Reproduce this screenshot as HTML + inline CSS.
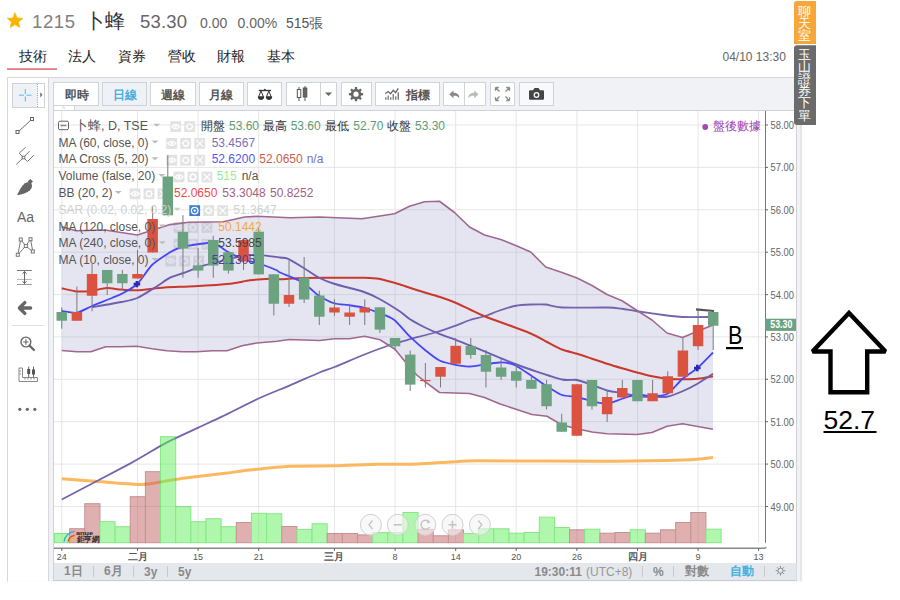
<!DOCTYPE html>
<html><head><meta charset="utf-8">
<style>
html,body{margin:0;padding:0;background:#fff;width:900px;height:600px;overflow:hidden;font-family:"Liberation Sans",sans-serif;}
.a{position:absolute;white-space:nowrap;}
svg text{font-family:"Liberation Sans",sans-serif;}
</style></head><body>
<svg class="a" style="left:0;top:0" width="900" height="600" viewBox="0 0 900 600">
<!-- header -->
<polygon points="15.00,12.60 17.17,17.91 22.89,18.34 18.52,22.04 19.88,27.61 15.00,24.60 10.12,27.61 11.48,22.04 7.11,18.34 12.83,17.91" fill="#f6b500" stroke="#f6b500" stroke-width="0.6" stroke-linejoin="round"/>
<text x="32" y="27.8" font-size="18.5" fill="#808080" letter-spacing="0.6">1215</text>
<text x="84.5" y="27.8" font-size="19.5" fill="#333">卜蜂</text>
<text x="140" y="27.8" font-size="18.5" fill="#666" letter-spacing="0.2">53.30</text>
<text x="200" y="27.8" font-size="14" fill="#666">0.00</text>
<text x="237.5" y="27.8" font-size="14" fill="#666">0.00%</text>
<text x="286" y="27.8" font-size="14" fill="#555">515張</text>
<!-- tabs -->
<text x="18.5" y="60.7" font-size="13.5" fill="#222">技術</text>
<text x="67.5" y="60.7" font-size="13.5" fill="#222">法人</text>
<text x="117.5" y="60.7" font-size="13.5" fill="#222">資券</text>
<text x="167.5" y="60.7" font-size="13.5" fill="#222">營收</text>
<text x="217" y="60.7" font-size="13.5" fill="#222">財報</text>
<text x="266.5" y="60.7" font-size="13.5" fill="#222">基本</text>
<rect x="7" y="68.3" width="50" height="1.6" fill="#e36a7a"/>
<text x="722.5" y="61" font-size="12" fill="#666">04/10 13:30</text>
<!-- container -->
<rect x="7" y="77" width="794.5" height="504.5" fill="#f0f2f6"/>
<path d="M7.5,581.5 V77.5 H801 V581.5" fill="none" stroke="#d6d8dc" stroke-width="1"/>
<rect x="8" y="78" width="40" height="503.5" fill="#fff"/>
<line x1="48.5" y1="78" x2="48.5" y2="581" stroke="#d6d8dc"/>
<rect x="53" y="110" width="744" height="453" fill="#fff"/>
<line x1="53.5" y1="110" x2="53.5" y2="581" stroke="#cfd2d7"/>
<line x1="796.5" y1="110" x2="796.5" y2="581" stroke="#cfd2d7"/>
<line x1="53" y1="110.5" x2="797" y2="110.5" stroke="#cfd2d7"/>
<rect x="54" y="563" width="742.5" height="17" fill="#e4e7ec"/>
<line x1="53" y1="580.5" x2="797" y2="580.5" stroke="#c9ccd2"/>
<!-- collapse handle -->
<rect x="53.5" y="105.5" width="21" height="5" fill="#fff" stroke="#cfd2d7"/><path d="M61.8,108.6 L63.5,107 L65.2,108.6" fill="none" stroke="#bbb" stroke-width="0.8"/>
<!-- top toolbar buttons -->
<g stroke="#cfd2d7" stroke-width="1">
<rect x="53.5" y="82.5" width="45" height="23" fill="#fff"/>
<rect x="102.5" y="82.5" width="44" height="23" fill="#eef1f5"/>
<rect x="150.5" y="82.5" width="45" height="23" fill="#fff"/>
<rect x="199.5" y="82.5" width="44" height="23" fill="#fff"/>
<rect x="247.5" y="82.5" width="34" height="23" fill="#fff"/>
<rect x="286.5" y="82.5" width="50" height="23" fill="#fff"/>
<line x1="320.5" y1="83" x2="320.5" y2="105"/>
<rect x="341.5" y="82.5" width="30" height="23" fill="#fff"/>
<rect x="375.5" y="82.5" width="64" height="23" fill="#fff"/>
<rect x="443.5" y="82.5" width="42" height="23" fill="#fff"/>
<line x1="464.5" y1="83" x2="464.5" y2="105"/>
<rect x="490.5" y="82.5" width="24" height="23" fill="#fff"/>
<rect x="519.5" y="82.5" width="34" height="23" fill="#f8f9fb"/>
</g>
<g font-size="12.4" font-weight="bold">
<text x="64.5" y="98.8" fill="#555">即時</text>
<text x="112.5" y="98.8" fill="#45b0e0">日線</text>
<text x="160.5" y="98.8" fill="#555">週線</text>
<text x="209" y="98.8" fill="#555">月線</text>
<text x="405.5" y="98.8" fill="#555">指標</text>
</g>
<!-- balance icon -->
<g stroke="#333" fill="none" stroke-width="1">
<path d="M258.8,90.5 H271" stroke-width="1.3"/><circle cx="264.9" cy="89.6" r="0.9" fill="#333" stroke="none"/>
<path d="M261,91 L258.6,96.8 M261,91 L263.4,96.8 M268.8,91 L266.4,96.8 M268.8,91 L271.2,96.8"/>
<path d="M258.2,96.8 A2.8,2.7 0 0 0 263.8,96.8 Z M266.2,96.8 A2.8,2.7 0 0 0 271.8,96.8 Z" fill="#333"/>
</g>
<!-- candle icon -->
<g stroke="#555" stroke-width="1">
<line x1="299" y1="87" x2="299" y2="101"/><rect x="297.3" y="89.5" width="3.5" height="8" fill="#fff"/>
<line x1="305" y1="86" x2="305" y2="101"/><rect x="303.3" y="88" width="3.5" height="9" fill="#666"/>
</g>
<path d="M325,92.5 H332 L328.5,96 Z" fill="#666"/>
<!-- gear -->
<path d="M354.76,89.05 L354.87,87.09 L357.13,87.09 L357.24,89.05 L358.77,89.68 L360.23,88.38 L361.82,89.97 L360.52,91.43 L361.15,92.96 L363.11,93.07 L363.11,95.33 L361.15,95.44 L360.52,96.97 L361.82,98.43 L360.23,100.02 L358.77,98.72 L357.24,99.35 L357.13,101.31 L354.87,101.31 L354.76,99.35 L353.23,98.72 L351.77,100.02 L350.18,98.43 L351.48,96.97 L350.85,95.44 L348.89,95.33 L348.89,93.07 L350.85,92.96 L351.48,91.43 L350.18,89.97 L351.77,88.38 L353.23,89.68 Z M356,91.6 A2.6,2.6 0 1 0 356,96.8 A2.6,2.6 0 1 0 356,91.6 Z" fill="#666" fill-rule="evenodd"/>
<!-- indicator icon -->
<path d="M385.3,93.5 L388.2,91.5 L390.5,93.7 L393.3,90.3 L395.5,92.7 L398.3,88.3" fill="none" stroke="#666" stroke-width="1.3"/>
<g fill="#777"><rect x="385.2" y="97.2" width="1.3" height="2.6"/><rect x="387.6" y="95.5" width="1.3" height="4.3"/><rect x="390.1" y="97.3" width="1.3" height="2.5"/><rect x="392.6" y="94" width="1.3" height="5.8"/><rect x="395.1" y="96.3" width="1.3" height="3.5"/><rect x="397.6" y="92.2" width="1.4" height="7.6"/></g>
<!-- undo redo -->
<g transform="translate(-1.8,0)"><path d="M451,94.3 L455.3,90.5 V92.8 C459.5,92.8 461.3,95 461,98.5 C459.8,96.3 458.3,95.8 455.3,95.8 V98.2 Z" fill="#888"/></g>
<path d="M478.5,94.3 L474.2,90.5 V92.8 C470,92.8 468.2,95 468.5,98.5 C469.7,96.3 471.2,95.8 474.2,95.8 V98.2 Z" fill="#bbb"/>
<!-- fullscreen -->
<g stroke="#888" stroke-width="1.3" fill="none">
<path d="M495.5,87.5 L499.5,91.5 M495.5,87.5 H498.8 M495.5,87.5 V90.8"/>
<path d="M509.5,87.5 L505.5,91.5 M509.5,87.5 H506.2 M509.5,87.5 V90.8"/>
<path d="M495.5,100.5 L499.5,96.5 M495.5,100.5 H498.8 M495.5,100.5 V97.2"/>
<path d="M509.5,100.5 L505.5,96.5 M509.5,100.5 H506.2 M509.5,100.5 V97.2"/>
</g>
<!-- camera -->
<path d="M530,90.3 H533 L534.5,88 H538.5 L540,90.3 H543 A1,1 0 0 1 544,91.3 V98.8 A1,1 0 0 1 543,99.8 H530 A1,1 0 0 1 529,98.8 V91.3 A1,1 0 0 1 530,90.3 Z" fill="#444"/>
<circle cx="536.5" cy="95" r="2.9" fill="#fff"/><circle cx="536.5" cy="95" r="1.7" fill="#444"/>

<!-- left toolbar -->
<rect x="12.5" y="83.5" width="32" height="24" fill="#fff" stroke="#cfd2d7"/>
<rect x="13" y="84" width="24" height="23" fill="#eef1f5"/>
<line x1="37.5" y1="84" x2="37.5" y2="107" stroke="#999" stroke-dasharray="1 1.2"/>
<path d="M40.2,92.2 L42.6,94.8 L40.2,97.4 Z" fill="#777"/>
<path d="M25.3,89 V94 M25.3,96.5 V101.5 M19,95.2 H24 M26.5,95.2 H31.5" stroke="#55bde6" stroke-width="1"/>
<g stroke="#666" stroke-width="1" fill="#fff">
<line x1="18" y1="132" x2="31.5" y2="119.5"/>
<rect x="16" y="130.5" width="3" height="3"/><rect x="30.5" y="117.5" width="3" height="3"/>
</g>
<g stroke="#777" stroke-width="1" fill="none">
<path d="M16.2,164.5 L23.5,157.5 L29.5,151.2 M23.5,157.5 L19.2,153.2 L25.7,147.2 M23.5,157.5 L27.5,161.5 L33.8,155.2"/>
<rect x="22.2" y="156.2" width="2.6" height="2.6" fill="#fff"/>
</g>
<path d="M17,195.2 C19.5,190 22,185.5 25,183.3 C27.2,181.8 29.8,182 31.3,183.6 C32.6,185.4 32.2,188 30,190.2 C27,192.8 22,194.3 17,195.2 Z" fill="#666"/><path d="M27.6,181.6 L30.3,178.9 L33,181.6 L30.3,184.3 Z" fill="#666"/>
<text x="17" y="222" font-size="14" fill="#666">Aa</text>
<g stroke="#777" stroke-width="1" fill="#fff">
<path d="M17.8,254.8 L20.8,239.5 L25.8,246 L30.5,239.2 L32.8,251.5 L25.8,246 L17.8,254.8" fill="none"/>
<rect x="19.3" y="238" width="3" height="3"/><rect x="29" y="237.7" width="3" height="3"/><rect x="24.3" y="244.5" width="3" height="3"/><rect x="31.3" y="250" width="3" height="3"/><rect x="16.3" y="253.3" width="3" height="3"/>
</g>
<g stroke-width="1" fill="none"><path d="M17,270.5 H31.8" stroke="#777"/><path d="M17,279.5 H31.8" stroke="#bbb"/><path d="M17,284.5 H31.8" stroke="#999"/><path d="M24.5,271.5 V283.5" stroke="#666"/><path d="M22.5,273.8 L24.5,271.5 L26.5,273.8 M22.5,281.2 L24.5,283.5 L26.5,281.2" stroke="#666"/></g>
<path d="M24.8,302.6 L19.4,308 L24.8,313.4 M19.6,308 H30.6" fill="none" stroke="#666" stroke-width="3.4" stroke-linecap="round" stroke-linejoin="round"/>
<line x1="12" y1="325.5" x2="44.5" y2="325.5" stroke="#e0e0e0"/>
<g stroke="#666" fill="none"><circle cx="25.9" cy="342" r="4.9" stroke-width="1.4"/><path d="M29.5,345.6 L34,350" stroke-width="2.2" stroke-linecap="round"/><path d="M23.2,342 H28.6 M25.9,339.3 V344.7" stroke-width="1.1"/></g>
<g stroke="#888" stroke-width="1" fill="none">
<path d="M19,368 H22.5 V377.5 H37.5 V381.5 H19 Z"/>
<path d="M19.5,371 H21 M19.5,374 H21 M25,378 V379.5 M28,378 V379.5 M31,378 V379.5 M34,378 V379.5"/>
</g>
<g stroke="#666" stroke-width="1"><path d="M28.7,366.5 V377 M33.5,366.5 V377"/></g>
<rect x="27.2" y="369" width="3" height="5" fill="#555"/><rect x="32" y="369.5" width="3" height="5" fill="#555"/>
<g fill="#666"><circle cx="19.8" cy="409.3" r="1.6"/><circle cx="27.3" cy="409.3" r="1.6"/><circle cx="34.8" cy="409.3" r="1.6"/></g>

<!-- right vertical tabs -->
<path d="M797,1 H816 V44 H794 V4 A3,3 0 0 1 797,1 Z" fill="#f7a73a"/>
<path d="M797,45.3 H816 V125 H797 A3,3 0 0 1 794,122 V48.3 A3,3 0 0 1 797,45.3 Z" fill="#6b6b6b"/>
<g font-size="12.8" font-weight="500" fill="#fff" text-anchor="middle">
<text x="804.5" y="15.5">聊</text><text x="804.5" y="27.7">天</text><text x="804.5" y="39.9">室</text>
<text x="804.5" y="58.5">玉</text><text x="804.5" y="70.7">山</text><text x="804.5" y="82.9">證</text><text x="804.5" y="95.1">券</text><text x="804.5" y="107.3">下</text><text x="804.5" y="119.5">單</text>
</g>
<!-- chart -->
<line x1="61.8" y1="111" x2="61.8" y2="542.8" stroke="#e6e6e6" stroke-width="1"/>
<line x1="137.5" y1="111" x2="137.5" y2="542.8" stroke="#e6e6e6" stroke-width="1"/>
<line x1="198.1" y1="111" x2="198.1" y2="542.8" stroke="#e6e6e6" stroke-width="1"/>
<line x1="258.7" y1="111" x2="258.7" y2="542.8" stroke="#e6e6e6" stroke-width="1"/>
<line x1="334.4" y1="111" x2="334.4" y2="542.8" stroke="#e6e6e6" stroke-width="1"/>
<line x1="395.1" y1="111" x2="395.1" y2="542.8" stroke="#e6e6e6" stroke-width="1"/>
<line x1="455.7" y1="111" x2="455.7" y2="542.8" stroke="#e6e6e6" stroke-width="1"/>
<line x1="516.2" y1="111" x2="516.2" y2="542.8" stroke="#e6e6e6" stroke-width="1"/>
<line x1="576.9" y1="111" x2="576.9" y2="542.8" stroke="#e6e6e6" stroke-width="1"/>
<line x1="637.5" y1="111" x2="637.5" y2="542.8" stroke="#e6e6e6" stroke-width="1"/>
<line x1="698.1" y1="111" x2="698.1" y2="542.8" stroke="#e6e6e6" stroke-width="1"/>
<line x1="758.6" y1="111" x2="758.6" y2="542.8" stroke="#e6e6e6" stroke-width="1"/>
<line x1="54" y1="506.5" x2="765" y2="506.5" stroke="#e6e6e6" stroke-width="1"/>
<line x1="54" y1="464.1" x2="765" y2="464.1" stroke="#e6e6e6" stroke-width="1"/>
<line x1="54" y1="421.7" x2="765" y2="421.7" stroke="#e6e6e6" stroke-width="1"/>
<line x1="54" y1="379.3" x2="765" y2="379.3" stroke="#e6e6e6" stroke-width="1"/>
<line x1="54" y1="336.9" x2="765" y2="336.9" stroke="#e6e6e6" stroke-width="1"/>
<line x1="54" y1="294.6" x2="765" y2="294.6" stroke="#e6e6e6" stroke-width="1"/>
<line x1="54" y1="252.2" x2="765" y2="252.2" stroke="#e6e6e6" stroke-width="1"/>
<line x1="54" y1="209.8" x2="765" y2="209.8" stroke="#e6e6e6" stroke-width="1"/>
<line x1="54" y1="167.4" x2="765" y2="167.4" stroke="#e6e6e6" stroke-width="1"/>
<line x1="54" y1="125.0" x2="765" y2="125.0" stroke="#e6e6e6" stroke-width="1"/>
<rect x="170.3" y="121.2" width="10.8" height="10.8" fill="#e2e2e2"/>
<path d="M171.7,126.6 Q175.7,122.4 179.7,126.6 Q175.7,130.8 171.7,126.6 Z" fill="none" stroke="#fff" stroke-width="1.3"/><circle cx="175.7" cy="126.6" r="1.2" fill="#fff"/>
<rect x="184.3" y="121.2" width="10.8" height="10.8" fill="#e2e2e2"/>
<circle cx="189.7" cy="126.6" r="2.6" fill="none" stroke="#fff" stroke-width="1.2"/>
<line x1="192.30" y1="126.60" x2="193.70" y2="126.60" stroke="#fff" stroke-width="1"/>
<line x1="191.54" y1="128.44" x2="192.53" y2="129.43" stroke="#fff" stroke-width="1"/>
<line x1="189.70" y1="129.20" x2="189.70" y2="130.60" stroke="#fff" stroke-width="1"/>
<line x1="187.86" y1="128.44" x2="186.87" y2="129.43" stroke="#fff" stroke-width="1"/>
<line x1="187.10" y1="126.60" x2="185.70" y2="126.60" stroke="#fff" stroke-width="1"/>
<line x1="187.86" y1="124.76" x2="186.87" y2="123.77" stroke="#fff" stroke-width="1"/>
<line x1="189.70" y1="124.00" x2="189.70" y2="122.60" stroke="#fff" stroke-width="1"/>
<line x1="191.54" y1="124.76" x2="192.53" y2="123.77" stroke="#fff" stroke-width="1"/>
<rect x="166.3" y="138.0" width="10.8" height="10.8" fill="#e2e2e2"/>
<path d="M167.7,143.4 Q171.7,139.2 175.7,143.4 Q171.7,147.6 167.7,143.4 Z" fill="none" stroke="#fff" stroke-width="1.3"/><circle cx="171.7" cy="143.4" r="1.2" fill="#fff"/>
<rect x="180.3" y="138.0" width="10.8" height="10.8" fill="#e2e2e2"/>
<circle cx="185.7" cy="143.4" r="2.6" fill="none" stroke="#fff" stroke-width="1.2"/>
<line x1="188.30" y1="143.40" x2="189.70" y2="143.40" stroke="#fff" stroke-width="1"/>
<line x1="187.54" y1="145.24" x2="188.53" y2="146.23" stroke="#fff" stroke-width="1"/>
<line x1="185.70" y1="146.00" x2="185.70" y2="147.40" stroke="#fff" stroke-width="1"/>
<line x1="183.86" y1="145.24" x2="182.87" y2="146.23" stroke="#fff" stroke-width="1"/>
<line x1="183.10" y1="143.40" x2="181.70" y2="143.40" stroke="#fff" stroke-width="1"/>
<line x1="183.86" y1="141.56" x2="182.87" y2="140.57" stroke="#fff" stroke-width="1"/>
<line x1="185.70" y1="140.80" x2="185.70" y2="139.40" stroke="#fff" stroke-width="1"/>
<line x1="187.54" y1="141.56" x2="188.53" y2="140.57" stroke="#fff" stroke-width="1"/>
<rect x="194.3" y="138.0" width="10.8" height="10.8" fill="#e2e2e2"/>
<path d="M196.2,139.9L203.2,146.9M203.2,139.9L196.2,146.9" stroke="#fff" stroke-width="1.1"/>
<rect x="166.3" y="154.8" width="10.8" height="10.8" fill="#e2e2e2"/>
<path d="M167.7,160.2 Q171.7,156.0 175.7,160.2 Q171.7,164.4 167.7,160.2 Z" fill="none" stroke="#fff" stroke-width="1.3"/><circle cx="171.7" cy="160.2" r="1.2" fill="#fff"/>
<rect x="180.3" y="154.8" width="10.8" height="10.8" fill="#e2e2e2"/>
<circle cx="185.7" cy="160.2" r="2.6" fill="none" stroke="#fff" stroke-width="1.2"/>
<line x1="188.30" y1="160.20" x2="189.70" y2="160.20" stroke="#fff" stroke-width="1"/>
<line x1="187.54" y1="162.04" x2="188.53" y2="163.03" stroke="#fff" stroke-width="1"/>
<line x1="185.70" y1="162.80" x2="185.70" y2="164.20" stroke="#fff" stroke-width="1"/>
<line x1="183.86" y1="162.04" x2="182.87" y2="163.03" stroke="#fff" stroke-width="1"/>
<line x1="183.10" y1="160.20" x2="181.70" y2="160.20" stroke="#fff" stroke-width="1"/>
<line x1="183.86" y1="158.36" x2="182.87" y2="157.37" stroke="#fff" stroke-width="1"/>
<line x1="185.70" y1="157.60" x2="185.70" y2="156.20" stroke="#fff" stroke-width="1"/>
<line x1="187.54" y1="158.36" x2="188.53" y2="157.37" stroke="#fff" stroke-width="1"/>
<rect x="194.3" y="154.8" width="10.8" height="10.8" fill="#e2e2e2"/>
<path d="M196.2,156.7L203.2,163.7M203.2,156.7L196.2,163.7" stroke="#fff" stroke-width="1.1"/>
<rect x="173.6" y="171.6" width="10.8" height="10.8" fill="#e2e2e2"/>
<path d="M175.0,177.0 Q179.0,172.8 183.0,177.0 Q179.0,181.2 175.0,177.0 Z" fill="none" stroke="#fff" stroke-width="1.3"/><circle cx="179.0" cy="177.0" r="1.2" fill="#fff"/>
<rect x="187.6" y="171.6" width="10.8" height="10.8" fill="#e2e2e2"/>
<circle cx="193.0" cy="177.0" r="2.6" fill="none" stroke="#fff" stroke-width="1.2"/>
<line x1="195.60" y1="177.00" x2="197.00" y2="177.00" stroke="#fff" stroke-width="1"/>
<line x1="194.84" y1="178.84" x2="195.83" y2="179.83" stroke="#fff" stroke-width="1"/>
<line x1="193.00" y1="179.60" x2="193.00" y2="181.00" stroke="#fff" stroke-width="1"/>
<line x1="191.16" y1="178.84" x2="190.17" y2="179.83" stroke="#fff" stroke-width="1"/>
<line x1="190.40" y1="177.00" x2="189.00" y2="177.00" stroke="#fff" stroke-width="1"/>
<line x1="191.16" y1="175.16" x2="190.17" y2="174.17" stroke="#fff" stroke-width="1"/>
<line x1="193.00" y1="174.40" x2="193.00" y2="173.00" stroke="#fff" stroke-width="1"/>
<line x1="194.84" y1="175.16" x2="195.83" y2="174.17" stroke="#fff" stroke-width="1"/>
<rect x="201.6" y="171.6" width="10.8" height="10.8" fill="#e2e2e2"/>
<path d="M203.5,173.5L210.5,180.5M210.5,173.5L203.5,180.5" stroke="#fff" stroke-width="1.1"/>
<rect x="129.6" y="188.4" width="10.8" height="10.8" fill="#e2e2e2"/>
<path d="M131.0,193.8 Q135.0,189.6 139.0,193.8 Q135.0,198.0 131.0,193.8 Z" fill="none" stroke="#fff" stroke-width="1.3"/><circle cx="135.0" cy="193.8" r="1.2" fill="#fff"/>
<rect x="143.6" y="188.4" width="10.8" height="10.8" fill="#e2e2e2"/>
<circle cx="149.0" cy="193.8" r="2.6" fill="none" stroke="#fff" stroke-width="1.2"/>
<line x1="151.60" y1="193.80" x2="153.00" y2="193.80" stroke="#fff" stroke-width="1"/>
<line x1="150.84" y1="195.64" x2="151.83" y2="196.63" stroke="#fff" stroke-width="1"/>
<line x1="149.00" y1="196.40" x2="149.00" y2="197.80" stroke="#fff" stroke-width="1"/>
<line x1="147.16" y1="195.64" x2="146.17" y2="196.63" stroke="#fff" stroke-width="1"/>
<line x1="146.40" y1="193.80" x2="145.00" y2="193.80" stroke="#fff" stroke-width="1"/>
<line x1="147.16" y1="191.96" x2="146.17" y2="190.97" stroke="#fff" stroke-width="1"/>
<line x1="149.00" y1="191.20" x2="149.00" y2="189.80" stroke="#fff" stroke-width="1"/>
<line x1="150.84" y1="191.96" x2="151.83" y2="190.97" stroke="#fff" stroke-width="1"/>
<rect x="157.6" y="188.4" width="10.8" height="10.8" fill="#e2e2e2"/>
<path d="M159.5,190.3L166.5,197.3M166.5,190.3L159.5,197.3" stroke="#fff" stroke-width="1.1"/>
<rect x="189.3" y="205.2" width="10.8" height="10.8" fill="#3d7fd6"/>
<circle cx="194.7" cy="210.6" r="3.3" fill="none" stroke="#fff" stroke-width="1.3"/><circle cx="194.7" cy="210.6" r="1.2" fill="#fff"/>
<rect x="203.3" y="205.2" width="10.8" height="10.8" fill="#e2e2e2"/>
<circle cx="208.7" cy="210.6" r="2.6" fill="none" stroke="#fff" stroke-width="1.2"/>
<line x1="211.30" y1="210.60" x2="212.70" y2="210.60" stroke="#fff" stroke-width="1"/>
<line x1="210.54" y1="212.44" x2="211.53" y2="213.43" stroke="#fff" stroke-width="1"/>
<line x1="208.70" y1="213.20" x2="208.70" y2="214.60" stroke="#fff" stroke-width="1"/>
<line x1="206.86" y1="212.44" x2="205.87" y2="213.43" stroke="#fff" stroke-width="1"/>
<line x1="206.10" y1="210.60" x2="204.70" y2="210.60" stroke="#fff" stroke-width="1"/>
<line x1="206.86" y1="208.76" x2="205.87" y2="207.77" stroke="#fff" stroke-width="1"/>
<line x1="208.70" y1="208.00" x2="208.70" y2="206.60" stroke="#fff" stroke-width="1"/>
<line x1="210.54" y1="208.76" x2="211.53" y2="207.77" stroke="#fff" stroke-width="1"/>
<rect x="217.3" y="205.2" width="10.8" height="10.8" fill="#e2e2e2"/>
<path d="M219.2,207.1L226.2,214.1M226.2,207.1L219.2,214.1" stroke="#fff" stroke-width="1.1"/>
<rect x="173.6" y="222.0" width="10.8" height="10.8" fill="#e2e2e2"/>
<path d="M175.0,227.4 Q179.0,223.2 183.0,227.4 Q179.0,231.6 175.0,227.4 Z" fill="none" stroke="#fff" stroke-width="1.3"/><circle cx="179.0" cy="227.4" r="1.2" fill="#fff"/>
<rect x="187.6" y="222.0" width="10.8" height="10.8" fill="#e2e2e2"/>
<circle cx="193.0" cy="227.4" r="2.6" fill="none" stroke="#fff" stroke-width="1.2"/>
<line x1="195.60" y1="227.40" x2="197.00" y2="227.40" stroke="#fff" stroke-width="1"/>
<line x1="194.84" y1="229.24" x2="195.83" y2="230.23" stroke="#fff" stroke-width="1"/>
<line x1="193.00" y1="230.00" x2="193.00" y2="231.40" stroke="#fff" stroke-width="1"/>
<line x1="191.16" y1="229.24" x2="190.17" y2="230.23" stroke="#fff" stroke-width="1"/>
<line x1="190.40" y1="227.40" x2="189.00" y2="227.40" stroke="#fff" stroke-width="1"/>
<line x1="191.16" y1="225.56" x2="190.17" y2="224.57" stroke="#fff" stroke-width="1"/>
<line x1="193.00" y1="224.80" x2="193.00" y2="223.40" stroke="#fff" stroke-width="1"/>
<line x1="194.84" y1="225.56" x2="195.83" y2="224.57" stroke="#fff" stroke-width="1"/>
<rect x="201.6" y="222.0" width="10.8" height="10.8" fill="#e2e2e2"/>
<path d="M203.5,223.9L210.5,230.9M210.5,223.9L203.5,230.9" stroke="#fff" stroke-width="1.1"/>
<rect x="173.6" y="238.8" width="10.8" height="10.8" fill="#e2e2e2"/>
<path d="M175.0,244.2 Q179.0,240.0 183.0,244.2 Q179.0,248.4 175.0,244.2 Z" fill="none" stroke="#fff" stroke-width="1.3"/><circle cx="179.0" cy="244.2" r="1.2" fill="#fff"/>
<rect x="187.6" y="238.8" width="10.8" height="10.8" fill="#e2e2e2"/>
<circle cx="193.0" cy="244.2" r="2.6" fill="none" stroke="#fff" stroke-width="1.2"/>
<line x1="195.60" y1="244.20" x2="197.00" y2="244.20" stroke="#fff" stroke-width="1"/>
<line x1="194.84" y1="246.04" x2="195.83" y2="247.03" stroke="#fff" stroke-width="1"/>
<line x1="193.00" y1="246.80" x2="193.00" y2="248.20" stroke="#fff" stroke-width="1"/>
<line x1="191.16" y1="246.04" x2="190.17" y2="247.03" stroke="#fff" stroke-width="1"/>
<line x1="190.40" y1="244.20" x2="189.00" y2="244.20" stroke="#fff" stroke-width="1"/>
<line x1="191.16" y1="242.36" x2="190.17" y2="241.37" stroke="#fff" stroke-width="1"/>
<line x1="193.00" y1="241.60" x2="193.00" y2="240.20" stroke="#fff" stroke-width="1"/>
<line x1="194.84" y1="242.36" x2="195.83" y2="241.37" stroke="#fff" stroke-width="1"/>
<rect x="201.6" y="238.8" width="10.8" height="10.8" fill="#e2e2e2"/>
<path d="M203.5,240.7L210.5,247.7M210.5,240.7L203.5,247.7" stroke="#fff" stroke-width="1.1"/>
<rect x="165.3" y="255.6" width="10.8" height="10.8" fill="#e2e2e2"/>
<path d="M166.7,261.0 Q170.7,256.8 174.7,261.0 Q170.7,265.2 166.7,261.0 Z" fill="none" stroke="#fff" stroke-width="1.3"/><circle cx="170.7" cy="261.0" r="1.2" fill="#fff"/>
<rect x="179.3" y="255.6" width="10.8" height="10.8" fill="#e2e2e2"/>
<circle cx="184.7" cy="261.0" r="2.6" fill="none" stroke="#fff" stroke-width="1.2"/>
<line x1="187.30" y1="261.00" x2="188.70" y2="261.00" stroke="#fff" stroke-width="1"/>
<line x1="186.54" y1="262.84" x2="187.53" y2="263.83" stroke="#fff" stroke-width="1"/>
<line x1="184.70" y1="263.60" x2="184.70" y2="265.00" stroke="#fff" stroke-width="1"/>
<line x1="182.86" y1="262.84" x2="181.87" y2="263.83" stroke="#fff" stroke-width="1"/>
<line x1="182.10" y1="261.00" x2="180.70" y2="261.00" stroke="#fff" stroke-width="1"/>
<line x1="182.86" y1="259.16" x2="181.87" y2="258.17" stroke="#fff" stroke-width="1"/>
<line x1="184.70" y1="258.40" x2="184.70" y2="257.00" stroke="#fff" stroke-width="1"/>
<line x1="186.54" y1="259.16" x2="187.53" y2="258.17" stroke="#fff" stroke-width="1"/>
<rect x="193.3" y="255.6" width="10.8" height="10.8" fill="#e2e2e2"/>
<path d="M195.2,257.5L202.2,264.5M202.2,257.5L195.2,264.5" stroke="#fff" stroke-width="1.1"/>
<polygon points="61.75,226.80 76.00,230.80 105.00,230.00 137.30,235.00 170.00,224.60 188.70,222.30 223.30,221.70 244.70,217.00 256.70,216.30 290.00,217.70 319.50,217.00 362.00,218.75 394.50,213.75 409.50,206.25 424.50,201.75 439.50,201.25 454.50,212.50 469.50,227.00 484.50,235.00 500.75,239.50 515.75,245.50 530.75,252.00 545.75,267.00 562.00,272.50 577.00,278.00 592.00,285.50 607.00,294.50 622.00,300.75 637.00,310.50 652.00,320.00 667.00,333.00 682.50,337.50 697.50,331.25 713.00,325.00 713.00,429.25 682.50,423.75 667.00,426.25 652.00,432.50 637.00,434.50 607.00,433.75 592.00,432.00 577.00,428.75 562.00,425.00 547.00,416.25 532.00,414.50 514.50,408.75 499.50,403.75 484.50,397.50 469.50,393.50 454.50,393.00 439.50,392.50 425.00,381.70 416.70,375.00 405.80,362.50 395.00,349.20 380.00,339.70 364.50,336.25 349.50,338.75 334.50,338.75 319.50,340.50 289.50,339.50 277.00,341.25 257.00,343.00 242.00,345.75 227.00,350.75 212.00,350.75 197.00,351.75 182.00,351.75 167.00,350.75 152.00,348.75 137.00,346.25 120.75,346.75 105.75,346.75 90.75,351.75 77.00,351.75 61.75,350.50" fill="#9a9ac8" fill-opacity="0.26" stroke="none"/>
<path d="M61.75,478.75 C65.96,479.07 85.41,480.52 95.00,481.25 C104.59,481.98 130.53,484.18 137.50,484.50 C144.47,484.82 145.25,484.38 150.00,483.75 C154.75,483.12 168.67,480.45 175.00,479.50 C181.33,478.55 193.67,477.04 200.00,476.25 C206.33,475.46 218.67,474.04 225.00,473.25 C231.33,472.46 241.83,470.89 250.00,470.00 C258.17,469.11 278.80,466.79 289.50,466.25 C300.20,465.71 323.42,466.00 334.50,465.75 C345.58,465.50 367.50,464.44 377.00,464.25 C386.50,464.06 399.52,464.57 409.50,464.25 C419.48,463.93 447.20,462.19 455.75,461.75 C464.30,461.31 458.73,460.86 477.00,460.80 C495.27,460.74 575.93,461.34 600.00,461.30 C624.07,461.26 654.71,460.75 667.00,460.50 C679.29,460.25 691.17,459.68 697.00,459.30 C702.83,458.92 710.97,457.73 713.00,457.50" fill="none" stroke="#fbb04e" stroke-width="3" stroke-opacity="0.9"/>
<path d="M61.75,499.50 C70.39,494.95 116.85,470.74 130.00,463.60 C143.15,456.46 156.94,447.66 165.60,443.10 C174.26,438.54 191.21,430.98 198.40,427.60 C205.59,424.22 214.85,420.06 222.40,416.40 C229.95,412.74 249.44,402.64 258.00,398.70 C266.56,394.76 282.21,388.62 290.00,385.30 C297.79,381.98 313.86,374.82 319.50,372.50 C325.14,370.18 328.80,369.28 334.50,367.00 C340.20,364.72 357.47,357.29 364.50,354.50 C371.53,351.71 384.24,346.94 390.00,345.00 C395.76,343.06 404.30,340.78 410.00,339.20 C415.70,337.62 429.30,334.20 435.00,332.50 C440.70,330.80 450.57,327.38 455.00,325.80 C459.43,324.22 466.26,321.21 470.00,320.00 C473.74,318.79 480.76,317.45 484.50,316.25 C488.24,315.05 495.54,311.83 499.50,310.50 C503.46,309.17 511.79,306.51 515.75,305.75 C519.71,304.99 526.95,304.66 530.75,304.50 C534.55,304.34 541.79,304.12 545.75,304.50 C549.71,304.88 554.24,307.12 562.00,307.50 C569.76,307.88 599.40,307.34 607.00,307.50 C614.60,307.66 618.20,308.27 622.00,308.75 C625.80,309.23 631.30,310.39 637.00,311.25 C642.70,312.11 661.24,314.77 667.00,315.50 C672.76,316.23 676.67,316.81 682.50,317.00 C688.33,317.19 709.14,317.00 713.00,317.00" fill="none" stroke="#7663ad" stroke-width="1.8"/>
<g opacity="0.5">
<rect x="54.50" y="533.50" width="15.15" height="9.20" fill="#62f05c" stroke="#10d010" stroke-width="1"/>
<rect x="69.65" y="528.70" width="15.15" height="14.00" fill="#c26262" stroke="#8c2a2a" stroke-width="1"/>
<rect x="84.80" y="503.70" width="15.15" height="39.00" fill="#c26262" stroke="#8c2a2a" stroke-width="1"/>
<rect x="99.95" y="521.70" width="15.15" height="21.00" fill="#62f05c" stroke="#10d010" stroke-width="1"/>
<rect x="115.10" y="526.70" width="15.15" height="16.00" fill="#62f05c" stroke="#10d010" stroke-width="1"/>
<rect x="130.25" y="496.70" width="15.15" height="46.00" fill="#c26262" stroke="#8c2a2a" stroke-width="1"/>
<rect x="145.40" y="471.70" width="15.15" height="71.00" fill="#c26262" stroke="#8c2a2a" stroke-width="1"/>
<rect x="160.55" y="436.70" width="15.15" height="106.00" fill="#62f05c" stroke="#10d010" stroke-width="1"/>
<rect x="175.70" y="506.70" width="15.15" height="36.00" fill="#62f05c" stroke="#10d010" stroke-width="1"/>
<rect x="190.85" y="521.70" width="15.15" height="21.00" fill="#62f05c" stroke="#10d010" stroke-width="1"/>
<rect x="206.00" y="518.70" width="15.15" height="24.00" fill="#62f05c" stroke="#10d010" stroke-width="1"/>
<rect x="221.15" y="526.70" width="15.15" height="16.00" fill="#62f05c" stroke="#10d010" stroke-width="1"/>
<rect x="236.30" y="522.50" width="15.15" height="20.20" fill="#c26262" stroke="#8c2a2a" stroke-width="1"/>
<rect x="251.45" y="513.30" width="15.15" height="29.40" fill="#62f05c" stroke="#10d010" stroke-width="1"/>
<rect x="266.60" y="513.80" width="15.15" height="28.90" fill="#62f05c" stroke="#10d010" stroke-width="1"/>
<rect x="281.75" y="526.50" width="15.15" height="16.20" fill="#c26262" stroke="#8c2a2a" stroke-width="1"/>
<rect x="296.90" y="529.40" width="15.15" height="13.30" fill="#62f05c" stroke="#10d010" stroke-width="1"/>
<rect x="312.05" y="523.80" width="15.15" height="18.90" fill="#62f05c" stroke="#10d010" stroke-width="1"/>
<rect x="327.20" y="533.50" width="15.15" height="9.20" fill="#c26262" stroke="#8c2a2a" stroke-width="1"/>
<rect x="342.35" y="533.50" width="15.15" height="9.20" fill="#c26262" stroke="#8c2a2a" stroke-width="1"/>
<rect x="357.50" y="534.90" width="15.15" height="7.80" fill="#c26262" stroke="#8c2a2a" stroke-width="1"/>
<rect x="372.65" y="532.70" width="15.15" height="10.00" fill="#62f05c" stroke="#10d010" stroke-width="1"/>
<rect x="387.80" y="532.70" width="15.15" height="10.00" fill="#62f05c" stroke="#10d010" stroke-width="1"/>
<rect x="402.95" y="512.50" width="15.15" height="30.20" fill="#62f05c" stroke="#10d010" stroke-width="1"/>
<rect x="418.10" y="529.40" width="15.15" height="13.30" fill="#c26262" stroke="#8c2a2a" stroke-width="1"/>
<rect x="433.25" y="535.80" width="15.15" height="6.90" fill="#c26262" stroke="#8c2a2a" stroke-width="1"/>
<rect x="448.40" y="529.90" width="15.15" height="12.80" fill="#c26262" stroke="#8c2a2a" stroke-width="1"/>
<rect x="463.55" y="533.50" width="15.15" height="9.20" fill="#62f05c" stroke="#10d010" stroke-width="1"/>
<rect x="478.70" y="528.80" width="15.15" height="13.90" fill="#62f05c" stroke="#10d010" stroke-width="1"/>
<rect x="493.85" y="528.80" width="15.15" height="13.90" fill="#62f05c" stroke="#10d010" stroke-width="1"/>
<rect x="509.00" y="533.20" width="15.15" height="9.50" fill="#62f05c" stroke="#10d010" stroke-width="1"/>
<rect x="524.15" y="532.50" width="15.15" height="10.20" fill="#62f05c" stroke="#10d010" stroke-width="1"/>
<rect x="539.30" y="517.20" width="15.15" height="25.50" fill="#62f05c" stroke="#10d010" stroke-width="1"/>
<rect x="554.45" y="527.50" width="15.15" height="15.20" fill="#62f05c" stroke="#10d010" stroke-width="1"/>
<rect x="569.60" y="529.80" width="15.15" height="12.90" fill="#c26262" stroke="#8c2a2a" stroke-width="1"/>
<rect x="584.75" y="529.20" width="15.15" height="13.50" fill="#62f05c" stroke="#10d010" stroke-width="1"/>
<rect x="599.90" y="533.20" width="15.15" height="9.50" fill="#c26262" stroke="#8c2a2a" stroke-width="1"/>
<rect x="615.05" y="532.50" width="15.15" height="10.20" fill="#c26262" stroke="#8c2a2a" stroke-width="1"/>
<rect x="630.20" y="529.80" width="15.15" height="12.90" fill="#62f05c" stroke="#10d010" stroke-width="1"/>
<rect x="645.35" y="533.20" width="15.15" height="9.50" fill="#c26262" stroke="#8c2a2a" stroke-width="1"/>
<rect x="660.50" y="529.80" width="15.15" height="12.90" fill="#c26262" stroke="#8c2a2a" stroke-width="1"/>
<rect x="675.65" y="522.50" width="15.15" height="20.20" fill="#c26262" stroke="#8c2a2a" stroke-width="1"/>
<rect x="690.80" y="512.50" width="15.15" height="30.20" fill="#c26262" stroke="#8c2a2a" stroke-width="1"/>
<rect x="705.95" y="529.20" width="15.15" height="13.50" fill="#62f05c" stroke="#10d010" stroke-width="1"/>
</g>
<polyline points="61.75,226.80 76.00,230.80 105.00,230.00 137.30,235.00 170.00,224.60 188.70,222.30 223.30,221.70 244.70,217.00 256.70,216.30 290.00,217.70 319.50,217.00 362.00,218.75 394.50,213.75 409.50,206.25 424.50,201.75 439.50,201.25 454.50,212.50 469.50,227.00 484.50,235.00 500.75,239.50 515.75,245.50 530.75,252.00 545.75,267.00 562.00,272.50 577.00,278.00 592.00,285.50 607.00,294.50 622.00,300.75 637.00,310.50 652.00,320.00 667.00,333.00 682.50,337.50 697.50,331.25 713.00,325.00" fill="none" stroke="#a0688f" stroke-width="1.6" stroke-linejoin="round"/>
<polyline points="61.75,350.50 77.00,351.75 90.75,351.75 105.75,346.75 120.75,346.75 137.00,346.25 152.00,348.75 167.00,350.75 182.00,351.75 197.00,351.75 212.00,350.75 227.00,350.75 242.00,345.75 257.00,343.00 277.00,341.25 289.50,339.50 319.50,340.50 334.50,338.75 349.50,338.75 364.50,336.25 380.00,339.70 395.00,349.20 405.80,362.50 416.70,375.00 425.00,381.70 439.50,392.50 454.50,393.00 469.50,393.50 484.50,397.50 499.50,403.75 514.50,408.75 532.00,414.50 547.00,416.25 562.00,425.00 577.00,428.75 592.00,432.00 607.00,433.75 637.00,434.50 652.00,432.50 667.00,426.25 682.50,423.75 713.00,429.25" fill="none" stroke="#a0688f" stroke-width="1.6" stroke-linejoin="round"/>
<path d="M61.75,288.30 C63.68,288.71 73.17,291.20 77.00,291.50 C80.83,291.80 88.24,291.14 92.00,290.70 C95.76,290.26 102.99,288.14 106.70,288.00 C110.41,287.86 117.42,289.32 121.30,289.60 C125.18,289.88 131.83,290.47 137.30,290.20 C142.77,289.93 157.25,288.00 164.50,287.50 C171.75,287.00 186.20,286.73 194.50,286.25 C202.80,285.77 222.97,284.45 230.00,283.70 C237.03,282.95 244.93,280.93 250.00,280.30 C255.07,279.67 266.20,278.83 270.00,278.70 C273.80,278.57 275.88,279.35 280.00,279.25 C284.12,279.15 295.66,278.09 302.50,277.90 C309.34,277.71 326.21,277.77 334.00,277.75 C341.79,277.73 358.30,277.62 364.00,277.75 C369.70,277.88 374.44,277.94 379.00,278.80 C383.56,279.66 395.22,283.08 400.00,284.50 C404.78,285.92 411.63,288.42 416.70,290.00 C421.77,291.58 435.15,295.42 440.00,297.00 C444.85,298.58 451.20,300.92 455.00,302.50 C458.80,304.08 466.26,307.76 470.00,309.50 C473.74,311.24 476.96,313.27 484.50,316.25 C492.04,319.23 521.58,329.74 529.50,333.00 C537.42,336.26 542.88,339.91 547.00,342.00 C551.12,344.09 558.20,348.01 562.00,349.50 C565.80,350.99 573.20,352.58 577.00,353.75 C580.80,354.92 588.20,357.48 592.00,358.75 C595.80,360.02 603.20,362.55 607.00,363.75 C610.80,364.95 618.20,367.14 622.00,368.25 C625.80,369.36 633.20,371.49 637.00,372.50 C640.80,373.51 648.14,375.46 652.00,376.25 C655.86,377.04 663.64,378.37 667.50,378.75 C671.36,379.13 678.70,379.25 682.50,379.25 C686.30,379.25 693.64,379.13 697.50,378.75 C701.36,378.37 711.04,376.57 713.00,376.25" fill="none" stroke="#c9382a" stroke-width="2"/>
<path d="M92.00,307.30 C95.71,306.63 115.56,303.18 121.30,302.00 C127.04,300.82 132.78,300.00 137.30,298.00 C141.82,296.00 152.86,288.82 157.00,286.25 C161.14,283.68 166.67,279.38 170.00,277.70 C173.33,276.02 179.08,274.52 183.30,273.00 C187.52,271.48 198.74,267.13 203.30,265.70 C207.86,264.27 215.41,262.71 219.30,261.70 C223.19,260.69 230.11,258.55 234.00,257.70 C237.89,256.85 246.29,255.29 250.00,255.00 C253.71,254.71 259.50,255.08 263.30,255.40 C267.10,255.72 276.93,257.08 280.00,257.50 C283.07,257.92 284.65,257.46 287.50,258.70 C290.35,259.94 298.51,264.84 302.50,267.25 C306.49,269.66 315.01,275.66 319.00,277.75 C322.99,279.84 328.30,281.94 334.00,283.75 C339.70,285.56 358.30,290.10 364.00,292.00 C369.70,293.90 374.44,296.28 379.00,298.75 C383.56,301.22 396.07,308.91 400.00,311.50 C403.93,314.09 406.83,317.17 410.00,319.20 C413.17,321.23 421.20,325.60 425.00,327.50 C428.80,329.40 436.20,332.67 440.00,334.20 C443.80,335.73 451.20,338.17 455.00,339.60 C458.80,341.03 466.26,344.02 470.00,345.50 C473.74,346.98 478.86,348.99 484.50,351.30 C490.14,353.61 508.48,361.38 514.50,363.75 C520.52,366.12 525.98,368.00 532.00,370.00 C538.02,372.00 556.30,378.23 562.00,379.50 C567.70,380.77 573.20,379.30 577.00,380.00 C580.80,380.70 588.20,383.67 592.00,385.00 C595.80,386.33 603.20,389.49 607.00,390.50 C610.80,391.51 618.20,392.27 622.00,393.00 C625.80,393.73 633.20,395.77 637.00,396.25 C640.80,396.73 648.20,396.69 652.00,396.75 C655.80,396.81 663.14,397.45 667.00,396.75 C670.86,396.05 678.64,392.90 682.50,391.25 C686.36,389.60 693.64,385.97 697.50,383.75 C701.36,381.53 711.04,375.02 713.00,373.75" fill="none" stroke="#6e5eb0" stroke-width="1.9"/>
<path d="M61.75,311.00 C63.64,311.22 72.87,313.33 76.70,312.70 C80.53,312.07 87.53,307.86 92.00,306.00 C96.47,304.14 108.11,299.61 112.00,298.00 C115.89,296.39 119.50,295.07 122.70,293.30 C125.90,291.53 133.59,287.58 137.30,284.00 C141.01,280.42 147.86,269.02 152.00,265.00 C156.14,260.98 166.71,254.42 170.00,252.30 C173.29,250.18 175.63,249.14 178.00,248.30 C180.37,247.46 184.81,246.37 188.70,245.70 C192.59,245.03 204.82,242.92 208.70,243.00 C212.58,243.08 216.77,245.12 219.30,246.30 C221.83,247.48 225.48,250.60 228.70,252.30 C231.92,254.00 240.32,258.09 244.70,259.70 C249.08,261.31 259.25,263.66 263.30,265.00 C267.35,266.34 274.58,269.35 276.70,270.30 C278.82,271.25 277.30,271.27 280.00,272.50 C282.70,273.73 294.20,278.00 298.00,280.00 C301.80,282.00 307.34,286.25 310.00,288.25 C312.66,290.25 315.96,293.85 319.00,295.75 C322.04,297.65 330.20,302.05 334.00,303.25 C337.80,304.45 345.20,304.63 349.00,305.20 C352.80,305.77 360.20,306.76 364.00,307.75 C367.80,308.74 375.20,311.48 379.00,313.00 C382.80,314.52 390.07,316.75 394.00,319.75 C397.93,322.75 406.07,332.87 410.00,336.70 C413.93,340.53 421.20,346.95 425.00,350.00 C428.80,353.05 436.20,358.94 440.00,360.80 C443.80,362.66 451.20,363.98 455.00,364.70 C458.80,365.42 464.36,366.78 470.00,366.50 C475.64,366.22 493.86,362.69 499.50,362.50 C505.14,362.31 510.38,363.26 514.50,365.00 C518.62,366.74 527.88,373.56 532.00,376.25 C536.12,378.94 543.20,383.88 547.00,386.25 C550.80,388.62 558.20,393.64 562.00,395.00 C565.80,396.36 573.20,396.21 577.00,397.00 C580.80,397.79 588.20,400.39 592.00,401.25 C595.80,402.11 603.20,404.07 607.00,403.75 C610.80,403.43 618.20,399.92 622.00,398.75 C625.80,397.58 633.20,394.82 637.00,394.50 C640.80,394.18 648.14,396.35 652.00,396.25 C655.86,396.15 663.64,395.97 667.50,393.75 C671.36,391.53 678.70,382.01 682.50,378.75 C686.30,375.49 693.64,371.32 697.50,368.00 C701.36,364.68 711.04,354.46 713.00,352.50" fill="none" stroke="#4646fa" stroke-width="1.8"/>
<line x1="61.75" y1="307.50" x2="61.75" y2="328.75" stroke="#7a7a7a" stroke-width="1"/>
<rect x="56.50" y="312.00" width="10.5" height="8.75" fill="#6ba381"/>
<line x1="76.90" y1="286.50" x2="76.90" y2="320.75" stroke="#7a7a7a" stroke-width="1"/>
<rect x="71.65" y="312.00" width="10.5" height="8.75" fill="#dc5240"/>
<line x1="92.05" y1="263.75" x2="92.05" y2="311.25" stroke="#7a7a7a" stroke-width="1"/>
<rect x="86.80" y="274.00" width="10.5" height="21.75" fill="#dc5240"/>
<line x1="107.20" y1="270.00" x2="107.20" y2="295.00" stroke="#7a7a7a" stroke-width="1"/>
<rect x="101.95" y="270.00" width="10.5" height="13.25" fill="#6ba381"/>
<line x1="122.35" y1="270.00" x2="122.35" y2="290.00" stroke="#7a7a7a" stroke-width="1"/>
<rect x="117.10" y="274.00" width="10.5" height="9.25" fill="#6ba381"/>
<line x1="137.50" y1="250.00" x2="137.50" y2="278.50" stroke="#7a7a7a" stroke-width="1"/>
<rect x="132.25" y="274.00" width="10.5" height="4.50" fill="#dc5240"/>
<line x1="152.65" y1="206.00" x2="152.65" y2="252.50" stroke="#7a7a7a" stroke-width="1"/>
<rect x="147.40" y="219.00" width="10.5" height="33.50" fill="#dc5240"/>
<line x1="167.80" y1="155.30" x2="167.80" y2="215.30" stroke="#7a7a7a" stroke-width="1"/>
<rect x="162.55" y="176.50" width="10.5" height="38.80" fill="#6ba381"/>
<line x1="182.95" y1="215.20" x2="182.95" y2="277.70" stroke="#7a7a7a" stroke-width="1"/>
<rect x="177.70" y="231.80" width="10.5" height="16.80" fill="#6ba381"/>
<line x1="198.10" y1="248.00" x2="198.10" y2="277.70" stroke="#7a7a7a" stroke-width="1"/>
<rect x="192.85" y="265.40" width="10.5" height="5.20" fill="#6ba381"/>
<line x1="213.25" y1="235.80" x2="213.25" y2="277.70" stroke="#7a7a7a" stroke-width="1"/>
<rect x="208.00" y="240.00" width="10.5" height="25.60" fill="#6ba381"/>
<line x1="228.40" y1="252.00" x2="228.40" y2="273.70" stroke="#7a7a7a" stroke-width="1"/>
<rect x="223.15" y="252.20" width="10.5" height="18.40" fill="#6ba381"/>
<line x1="243.55" y1="240.00" x2="243.55" y2="270.00" stroke="#7a7a7a" stroke-width="1"/>
<rect x="238.30" y="240.00" width="10.5" height="21.50" fill="#dc5240"/>
<line x1="258.70" y1="227.50" x2="258.70" y2="274.40" stroke="#7a7a7a" stroke-width="1"/>
<rect x="253.45" y="231.70" width="10.5" height="42.70" fill="#6ba381"/>
<line x1="273.85" y1="274.30" x2="273.85" y2="315.50" stroke="#7a7a7a" stroke-width="1"/>
<rect x="268.60" y="274.30" width="10.5" height="29.45" fill="#6ba381"/>
<line x1="289.00" y1="260.50" x2="289.00" y2="307.00" stroke="#7a7a7a" stroke-width="1"/>
<rect x="283.75" y="295.00" width="10.5" height="8.75" fill="#dc5240"/>
<line x1="304.15" y1="257.00" x2="304.15" y2="303.00" stroke="#7a7a7a" stroke-width="1"/>
<rect x="298.90" y="277.50" width="10.5" height="22.00" fill="#6ba381"/>
<line x1="319.30" y1="290.75" x2="319.30" y2="325.00" stroke="#7a7a7a" stroke-width="1"/>
<rect x="314.05" y="295.50" width="10.5" height="21.25" fill="#6ba381"/>
<line x1="334.45" y1="299.25" x2="334.45" y2="315.75" stroke="#7a7a7a" stroke-width="1"/>
<rect x="329.20" y="307.50" width="10.5" height="5.00" fill="#dc5240"/>
<line x1="349.60" y1="303.75" x2="349.60" y2="325.00" stroke="#7a7a7a" stroke-width="1"/>
<rect x="344.35" y="312.50" width="10.5" height="4.25" fill="#dc5240"/>
<line x1="364.75" y1="299.25" x2="364.75" y2="325.00" stroke="#7a7a7a" stroke-width="1"/>
<rect x="359.50" y="307.50" width="10.5" height="5.00" fill="#dc5240"/>
<line x1="379.90" y1="307.30" x2="379.90" y2="333.00" stroke="#7a7a7a" stroke-width="1"/>
<rect x="374.65" y="307.30" width="10.5" height="22.30" fill="#6ba381"/>
<line x1="395.05" y1="338.00" x2="395.05" y2="350.50" stroke="#7a7a7a" stroke-width="1"/>
<rect x="389.80" y="338.00" width="10.5" height="8.30" fill="#6ba381"/>
<line x1="410.20" y1="350.50" x2="410.20" y2="391.00" stroke="#7a7a7a" stroke-width="1"/>
<rect x="404.95" y="354.60" width="10.5" height="30.00" fill="#6ba381"/>
<line x1="425.35" y1="363.00" x2="425.35" y2="387.50" stroke="#7a7a7a" stroke-width="1"/>
<rect x="420.10" y="380.00" width="10.5" height="1.20" fill="#dc5240"/>
<line x1="440.50" y1="367.00" x2="440.50" y2="387.50" stroke="#7a7a7a" stroke-width="1"/>
<rect x="435.25" y="367.00" width="10.5" height="9.75" fill="#dc5240"/>
<line x1="455.65" y1="338.00" x2="455.65" y2="363.75" stroke="#7a7a7a" stroke-width="1"/>
<rect x="450.40" y="345.80" width="10.5" height="17.95" fill="#dc5240"/>
<line x1="470.80" y1="338.00" x2="470.80" y2="358.75" stroke="#7a7a7a" stroke-width="1"/>
<rect x="465.55" y="346.00" width="10.5" height="9.00" fill="#6ba381"/>
<line x1="485.95" y1="350.00" x2="485.95" y2="387.50" stroke="#7a7a7a" stroke-width="1"/>
<rect x="480.70" y="355.00" width="10.5" height="16.75" fill="#6ba381"/>
<line x1="501.10" y1="358.75" x2="501.10" y2="380.00" stroke="#7a7a7a" stroke-width="1"/>
<rect x="495.85" y="367.50" width="10.5" height="9.25" fill="#6ba381"/>
<line x1="516.25" y1="363.75" x2="516.25" y2="387.50" stroke="#7a7a7a" stroke-width="1"/>
<rect x="511.00" y="371.25" width="10.5" height="9.50" fill="#6ba381"/>
<line x1="531.40" y1="376.25" x2="531.40" y2="388.75" stroke="#7a7a7a" stroke-width="1"/>
<rect x="526.15" y="380.00" width="10.5" height="8.75" fill="#6ba381"/>
<line x1="546.55" y1="380.00" x2="546.55" y2="409.50" stroke="#7a7a7a" stroke-width="1"/>
<rect x="541.30" y="384.25" width="10.5" height="22.00" fill="#6ba381"/>
<line x1="561.70" y1="413.75" x2="561.70" y2="431.75" stroke="#7a7a7a" stroke-width="1"/>
<rect x="556.45" y="422.50" width="10.5" height="9.25" fill="#6ba381"/>
<line x1="576.85" y1="384.25" x2="576.85" y2="435.75" stroke="#7a7a7a" stroke-width="1"/>
<rect x="571.60" y="384.25" width="10.5" height="51.50" fill="#dc5240"/>
<line x1="592.00" y1="380.00" x2="592.00" y2="409.50" stroke="#7a7a7a" stroke-width="1"/>
<rect x="586.75" y="380.00" width="10.5" height="26.25" fill="#6ba381"/>
<line x1="607.15" y1="390.00" x2="607.15" y2="422.00" stroke="#7a7a7a" stroke-width="1"/>
<rect x="601.90" y="397.00" width="10.5" height="17.25" fill="#dc5240"/>
<line x1="622.30" y1="380.00" x2="622.30" y2="397.50" stroke="#7a7a7a" stroke-width="1"/>
<rect x="617.05" y="388.00" width="10.5" height="9.50" fill="#dc5240"/>
<line x1="637.45" y1="380.00" x2="637.45" y2="401.25" stroke="#7a7a7a" stroke-width="1"/>
<rect x="632.20" y="380.00" width="10.5" height="21.25" fill="#6ba381"/>
<line x1="652.60" y1="380.00" x2="652.60" y2="401.25" stroke="#7a7a7a" stroke-width="1"/>
<rect x="647.35" y="393.25" width="10.5" height="8.00" fill="#dc5240"/>
<line x1="667.75" y1="371.25" x2="667.75" y2="393.25" stroke="#7a7a7a" stroke-width="1"/>
<rect x="662.50" y="376.25" width="10.5" height="17.00" fill="#dc5240"/>
<line x1="682.90" y1="338.00" x2="682.90" y2="376.75" stroke="#7a7a7a" stroke-width="1"/>
<rect x="677.65" y="350.50" width="10.5" height="26.25" fill="#dc5240"/>
<line x1="698.05" y1="308.75" x2="698.05" y2="350.00" stroke="#7a7a7a" stroke-width="1"/>
<rect x="692.80" y="325.00" width="10.5" height="21.25" fill="#dc5240"/>
<line x1="713.20" y1="310.00" x2="713.20" y2="350.00" stroke="#7a7a7a" stroke-width="1"/>
<rect x="707.95" y="312.00" width="10.5" height="13.75" fill="#6ba381"/>
<path d="M133.60,284.10H140.20M136.90,280.90V287.30" stroke="#2a2ab0" stroke-width="2.6"/>
<path d="M694.00,368.00H700.60M697.30,364.80V371.20" stroke="#2a2ab0" stroke-width="2.6"/>
<line x1="696" y1="309.4" x2="714" y2="311" stroke="#555" stroke-width="2.2"/>
<line x1="765.5" y1="111" x2="765.5" y2="542.8" stroke="#777" stroke-width="1"/>
<path d="M54,548.3 H764.5 Q765.8,548.3 765.8,547" fill="none" stroke="#888" stroke-width="1.6"/>
<line x1="61.8" y1="548" x2="61.8" y2="551" stroke="#666" stroke-width="1"/>
<line x1="137.5" y1="548" x2="137.5" y2="551" stroke="#666" stroke-width="1"/>
<line x1="198.1" y1="548" x2="198.1" y2="551" stroke="#666" stroke-width="1"/>
<line x1="258.7" y1="548" x2="258.7" y2="551" stroke="#666" stroke-width="1"/>
<line x1="334.4" y1="548" x2="334.4" y2="551" stroke="#666" stroke-width="1"/>
<line x1="395.1" y1="548" x2="395.1" y2="551" stroke="#666" stroke-width="1"/>
<line x1="455.7" y1="548" x2="455.7" y2="551" stroke="#666" stroke-width="1"/>
<line x1="516.2" y1="548" x2="516.2" y2="551" stroke="#666" stroke-width="1"/>
<line x1="576.9" y1="548" x2="576.9" y2="551" stroke="#666" stroke-width="1"/>
<line x1="637.5" y1="548" x2="637.5" y2="551" stroke="#666" stroke-width="1"/>
<line x1="698.1" y1="548" x2="698.1" y2="551" stroke="#666" stroke-width="1"/>
<line x1="758.6" y1="548" x2="758.6" y2="551" stroke="#666" stroke-width="1"/>
<line x1="765" y1="506.5" x2="768" y2="506.5" stroke="#666" stroke-width="1"/>
<text x="770.5" y="510.5" font-size="11" fill="#666" textLength="23.5" lengthAdjust="spacingAndGlyphs">49.00</text>
<line x1="765" y1="464.1" x2="768" y2="464.1" stroke="#666" stroke-width="1"/>
<text x="770.5" y="468.1" font-size="11" fill="#666" textLength="23.5" lengthAdjust="spacingAndGlyphs">50.00</text>
<line x1="765" y1="421.7" x2="768" y2="421.7" stroke="#666" stroke-width="1"/>
<text x="770.5" y="425.7" font-size="11" fill="#666" textLength="23.5" lengthAdjust="spacingAndGlyphs">51.00</text>
<line x1="765" y1="379.3" x2="768" y2="379.3" stroke="#666" stroke-width="1"/>
<text x="770.5" y="383.3" font-size="11" fill="#666" textLength="23.5" lengthAdjust="spacingAndGlyphs">52.00</text>
<line x1="765" y1="336.9" x2="768" y2="336.9" stroke="#666" stroke-width="1"/>
<text x="770.5" y="340.9" font-size="11" fill="#666" textLength="23.5" lengthAdjust="spacingAndGlyphs">53.00</text>
<line x1="765" y1="294.6" x2="768" y2="294.6" stroke="#666" stroke-width="1"/>
<text x="770.5" y="298.6" font-size="11" fill="#666" textLength="23.5" lengthAdjust="spacingAndGlyphs">54.00</text>
<line x1="765" y1="252.2" x2="768" y2="252.2" stroke="#666" stroke-width="1"/>
<text x="770.5" y="256.2" font-size="11" fill="#666" textLength="23.5" lengthAdjust="spacingAndGlyphs">55.00</text>
<line x1="765" y1="209.8" x2="768" y2="209.8" stroke="#666" stroke-width="1"/>
<text x="770.5" y="213.8" font-size="11" fill="#666" textLength="23.5" lengthAdjust="spacingAndGlyphs">56.00</text>
<line x1="765" y1="167.4" x2="768" y2="167.4" stroke="#666" stroke-width="1"/>
<text x="770.5" y="171.4" font-size="11" fill="#666" textLength="23.5" lengthAdjust="spacingAndGlyphs">57.00</text>
<line x1="765" y1="125.0" x2="768" y2="125.0" stroke="#666" stroke-width="1"/>
<text x="770.5" y="129.0" font-size="11" fill="#666" textLength="23.5" lengthAdjust="spacingAndGlyphs">58.00</text>
<rect x="765" y="318.7" width="31" height="12.2" fill="#6ba381"/>
<text x="770.3" y="328.3" font-size="10" font-weight="bold" fill="#fff" textLength="22" lengthAdjust="spacingAndGlyphs">53.30</text>
<text x="61.8" y="559.6" font-size="9" fill="#555" text-anchor="middle">24</text>
<text x="137.5" y="559.8" font-size="9.5" font-weight="bold" fill="#555" text-anchor="middle">二月</text>
<text x="198.1" y="559.6" font-size="9" fill="#555" text-anchor="middle">15</text>
<text x="258.7" y="559.6" font-size="9" fill="#555" text-anchor="middle">21</text>
<text x="334.4" y="559.8" font-size="9.5" font-weight="bold" fill="#555" text-anchor="middle">三月</text>
<text x="395.1" y="559.6" font-size="9" fill="#555" text-anchor="middle">8</text>
<text x="455.7" y="559.6" font-size="9" fill="#555" text-anchor="middle">14</text>
<text x="516.2" y="559.6" font-size="9" fill="#555" text-anchor="middle">20</text>
<text x="576.9" y="559.6" font-size="9" fill="#555" text-anchor="middle">26</text>
<text x="637.5" y="559.8" font-size="9.5" font-weight="bold" fill="#555" text-anchor="middle">四月</text>
<text x="698.1" y="559.6" font-size="9" fill="#555" text-anchor="middle">9</text>
<text x="758.6" y="559.6" font-size="9" fill="#555" text-anchor="middle">13</text>
<rect x="58.5" y="121.2" width="10" height="8.5" rx="1.5" fill="none" stroke="#666" stroke-width="1"/><line x1="60.5" y1="125.5" x2="66.5" y2="125.5" stroke="#888" stroke-width="1.5"/>
<text x="75" y="129.7" font-size="12.5" fill="#555">卜蜂, D, TSE</text>
<path d="M153.2,123.7L160.2,123.7L156.7,126.7Z" fill="#bbb"/>

<text x="200.7" y="129.7" font-size="12" fill="#333">開盤</text>
<text x="229" y="129.7" font-size="12" fill="#5d9c72">53.60</text>
<text x="263.3" y="129.7" font-size="12" fill="#333">最高</text>
<text x="290.7" y="129.7" font-size="12" fill="#5d9c72">53.60</text>
<text x="325" y="129.7" font-size="12" fill="#333">最低</text>
<text x="353.3" y="129.7" font-size="12" fill="#5d9c72">52.70</text>
<text x="386.7" y="129.7" font-size="12" fill="#333">收盤</text>
<text x="415" y="129.7" font-size="12" fill="#5d9c72">53.30</text>
<text x="58.5" y="146.5" font-size="12" fill="#555">MA (60, close, 0)</text>
<path d="M151.5,140.5L158.5,140.5L155.0,143.5Z" fill="#bbb"/>

<text x="211.7" y="146.5" font-size="12" fill="#7b70b8">53.4567</text>
<text x="58.5" y="163.3" font-size="12" fill="#555">MA Cross (5, 20)</text>
<path d="M151.5,157.3L158.5,157.3L155.0,160.3Z" fill="#bbb"/>

<text x="211.7" y="163.3" font-size="12" fill="#5656ee">52.6200</text><text x="259.3" y="163.3" font-size="12" fill="#c8604e">52.0650</text><text x="306.7" y="163.3" font-size="12" fill="#7272c8">n/a</text>
<text x="58.5" y="180.1" font-size="12" fill="#555">Volume (false, 20)</text>
<path d="M158.2,174.1L165.2,174.1L161.7,177.1Z" fill="#bbb"/>

<text x="216.7" y="180.1" font-size="12" fill="#98ec98">515</text><text x="241.7" y="180.1" font-size="12" fill="#555">n/a</text>
<text x="58.5" y="196.9" font-size="12" fill="#555">BB (20, 2)</text>
<path d="M114.8,190.9L121.8,190.9L118.3,193.9Z" fill="#bbb"/>

<text x="174" y="196.9" font-size="12" fill="#f04a4a">52.0650</text><text x="222.3" y="196.9" font-size="12" fill="#a0627e">53.3048</text><text x="270" y="196.9" font-size="12" fill="#a0627e">50.8252</text>
<text x="58.5" y="213.7" font-size="12" fill="#cfcfcf">SAR (0.02, 0.02, 0.2)</text>
<path d="M173.8,207.7L180.8,207.7L177.3,210.7Z" fill="#ccc"/>

<text x="233.3" y="213.7" font-size="12" fill="#d0d0d0">51.3647</text>
<text x="58.5" y="230.5" font-size="12" fill="#555">MA (120, close, 0)</text>
<path d="M158.8,224.5L165.8,224.5L162.3,227.5Z" fill="#bbb"/>

<text x="218.3" y="230.5" font-size="12" fill="#f7a840">50.1442</text>
<text x="58.5" y="247.3" font-size="12" fill="#555">MA (240, close, 0)</text>
<path d="M158.8,241.3L165.8,241.3L162.3,244.3Z" fill="#bbb"/>

<text x="218.3" y="247.3" font-size="12" fill="#444">53.5985</text>
<text x="58.5" y="264.1" font-size="12" fill="#555">MA (10, close, 0)</text>
<path d="M151.5,258.1L158.5,258.1L155.0,261.1Z" fill="#bbb"/>

<text x="211.7" y="264.1" font-size="12" fill="#45418a">52.1305</text>
<circle cx="705.2" cy="127" r="2.9" fill="#a449b4"/><text x="713" y="130.2" font-size="12" fill="#9b42b0">盤後數據</text>
<path d="M64,541.7 A12,12 0 0 1 74.7,531.3" fill="none" stroke="#3aa5d8" stroke-width="1.3"/>
<path d="M68,541.7 A8,8 0 0 1 74.7,535.3" fill="none" stroke="#e8452a" stroke-width="1.3"/>
<path d="M70.4,541.7 A5.5,5.5 0 0 1 74.7,537.5" fill="none" stroke="#f7b23a" stroke-width="1.3"/>
<text x="76" y="534.5" font-size="6" font-weight="bold" fill="#222" textLength="17" lengthAdjust="spacingAndGlyphs">anue</text>
<text x="76.5" y="542" font-size="7.5" font-weight="bold" fill="#333" textLength="23" lengthAdjust="spacingAndGlyphs">鉅亨網</text>
<circle cx="370.9" cy="524.8" r="10.5" fill="#f4f4f4" fill-opacity="0.6" stroke="#d0d0d0" stroke-width="1"/>
<circle cx="397.8" cy="524.8" r="10.5" fill="#f4f4f4" fill-opacity="0.6" stroke="#d0d0d0" stroke-width="1"/>
<circle cx="425.3" cy="524.8" r="10.5" fill="#f4f4f4" fill-opacity="0.6" stroke="#d0d0d0" stroke-width="1"/>
<circle cx="452.5" cy="524.8" r="10.5" fill="#f4f4f4" fill-opacity="0.6" stroke="#d0d0d0" stroke-width="1"/>
<circle cx="479.9" cy="524.8" r="10.5" fill="#f4f4f4" fill-opacity="0.6" stroke="#d0d0d0" stroke-width="1"/>
<path d="M372.5,520.5L369,524.8L372.5,529" fill="none" stroke="#c4c4c4" stroke-width="1.3"/>
<line x1="393.8" y1="524.8" x2="401.8" y2="524.8" stroke="#c4c4c4" stroke-width="1.6"/>
<path d="M429.3,522A4.6,4.6 0 1 0 429.6,527" fill="none" stroke="#c4c4c4" stroke-width="1.5"/><path d="M427,519.5L430.5,522.2L427,523.5Z" fill="#c4c4c4"/>
<path d="M448.5,524.8H456.5M452.5,520.8V528.8" stroke="#c4c4c4" stroke-width="1.6"/>
<path d="M478.3,520.5L481.8,524.8L478.3,529" fill="none" stroke="#c4c4c4" stroke-width="1.3"/>
<!-- bottom bar -->
<g font-size="12" font-weight="bold" fill="#8a8a8a">
<text x="64" y="575.2">1日</text><text x="104" y="575.2">6月</text><text x="144" y="575.5">3y</text><text x="178" y="575.5">5y</text>
<text x="534.5" y="575.5">19:30:11</text>
<text x="653" y="575.5">%</text>
<text x="684.5" y="574.8">對數</text>
<text x="730" y="574.8" fill="#45b0e0">自動</text>
</g>
<text x="586" y="575.5" font-size="12" fill="#999">(UTC+8)</text>
<g stroke="#c8c8c8"><path d="M93.5,566 V577 M133.5,566 V577 M167.5,566 V577 M642.5,566 V577 M673.5,566 V577 M764.5,566 V577"/></g>
<g transform="translate(780.5,570.7)" stroke="#888" stroke-width="1" fill="none">
<circle r="2.6"/><path d="M0,-4.8 V-3 M0,3 V4.8 M-4.8,0 H-3 M3,0 H4.8 M-3.4,-3.4 L-2.2,-2.2 M2.2,2.2 L3.4,3.4 M-3.4,3.4 L-2.2,2.2 M2.2,-2.2 L3.4,-3.4"/>
</g>
<!-- annotations -->
<text x="728" y="344.3" font-size="26" fill="#000" textLength="14.5" lengthAdjust="spacingAndGlyphs">B</text>
<rect x="726" y="347" width="17" height="2.2" fill="#000"/>
<path d="M849,313 L812.5,351.5 H830.5 V392.2 H867.2 V351.5 H885.5 Z" fill="none" stroke="#000" stroke-width="4.4" stroke-linejoin="miter" stroke-miterlimit="2"/>
<text x="823.5" y="428.6" font-size="26.5" fill="#000" textLength="51.5" lengthAdjust="spacingAndGlyphs">52.7</text>
<rect x="823.5" y="431" width="53" height="2" fill="#000"/>
</svg>
</body></html>
